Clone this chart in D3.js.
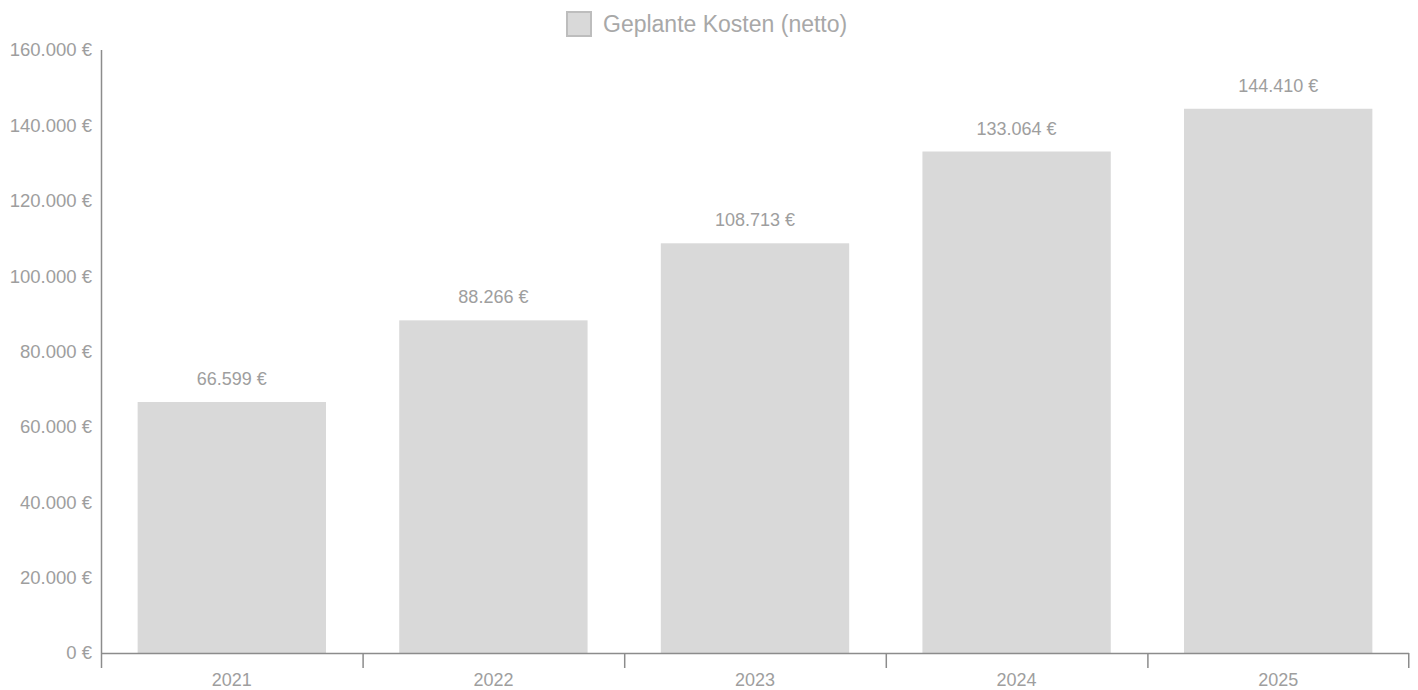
<!DOCTYPE html>
<html>
<head>
<meta charset="utf-8">
<script src="https://cdn.jsdelivr.net/npm/d3@7"></script>
<style>
  body { margin: 0; background: #fff; }
  svg { font-family: "Liberation Sans", Arial, sans-serif; }
</style>
</head>
<body>
<svg id="chart" width="1418" height="690"></svg>
<script>
const years = ["2021", "2022", "2023", "2024", "2025"];
const costs = [66599, 88266, 108713, 133064, 144410];
const yTicks = [0, 20000, 40000, 60000, 80000, 100000, 120000, 140000, 160000];
const seriesName = "Geplante Kosten (netto)";

const width = 1418;
const height = 690;
const margin = { top: 50, right: 9, bottom: 37, left: 101 };
const chartWidth = width - margin.left - margin.right;
const chartHeight = height - margin.top - margin.bottom;

const textColor = "#9e9e9e";
const axisColor = "#8c8c8c";
const barColor = "#d9d9d9";

const de = d3.formatLocale({ decimal: ",", thousands: ".", grouping: [3], currency: ["", " €"] });
const fmt = v => de.format(",")(v) + " €";

const svg = d3.select("#chart");
const g = svg.append("g").attr("transform", `translate(${margin.left},${margin.top})`);

const x = d3.scaleBand().domain(years).range([0, chartWidth]).paddingInner(0.28).paddingOuter(0.14);
const y = d3.scaleLinear().domain([0, 160000]).range([chartHeight, 0]);
const step = x.step();

// y axis: line + labels, no tick marks
g.append("line")
  .attr("x1", 0.5).attr("x2", 0.5)
  .attr("y1", 0).attr("y2", chartHeight)
  .attr("stroke", axisColor).attr("stroke-width", 1.5);

g.selectAll("text.ylab")
  .data(yTicks)
  .enter().append("text")
  .attr("class", "ylab")
  .attr("x", -9)
  .attr("y", d => y(d))
  .attr("dy", "0.35em")
  .attr("text-anchor", "end")
  .attr("fill", textColor)
  .style("font-size", "18.5px")
  .text(d => fmt(d));

// bars
g.selectAll("rect.bar")
  .data(costs)
  .enter().append("rect")
  .attr("class", "bar")
  .attr("x", (d, i) => x(years[i]))
  .attr("y", d => y(d))
  .attr("width", x.bandwidth())
  .attr("height", d => chartHeight - y(d))
  .attr("fill", barColor);

// value labels
g.selectAll("text.val")
  .data(costs)
  .enter().append("text")
  .attr("class", "val")
  .attr("x", (d, i) => x(years[i]) + x.bandwidth() / 2)
  .attr("y", d => y(d) - 17)
  .attr("text-anchor", "middle")
  .attr("fill", textColor)
  .style("font-size", "18px")
  .text(d => fmt(d));

// x axis: baseline, boundary ticks, centered labels
const xAxis = g.append("g").attr("transform", `translate(0,${chartHeight})`);
xAxis.append("line")
  .attr("x1", 0).attr("x2", chartWidth)
  .attr("y1", 0.5).attr("y2", 0.5)
  .attr("stroke", axisColor).attr("stroke-width", 1.5);

const boundaries = d3.range(years.length + 1).map(i => i * step);
xAxis.selectAll("line.tick")
  .data(boundaries)
  .enter().append("line")
  .attr("class", "tick")
  .attr("x1", d => Math.min(d, chartWidth - 0.75) + 0.5)
  .attr("x2", d => Math.min(d, chartWidth - 0.75) + 0.5)
  .attr("y1", 0).attr("y2", 15)
  .attr("stroke", axisColor).attr("stroke-width", 1.5);

xAxis.selectAll("text.xlab")
  .data(years)
  .enter().append("text")
  .attr("class", "xlab")
  .attr("x", d => x(d) + x.bandwidth() / 2)
  .attr("y", 27)
  .attr("dy", "0.35em")
  .attr("text-anchor", "middle")
  .attr("fill", textColor)
  .style("font-size", "18px")
  .text(d => d);

// legend
const legend = svg.append("g").attr("transform", "translate(567,12)");
legend.append("rect")
  .attr("width", 24).attr("height", 24)
  .attr("fill", barColor)
  .attr("stroke", "#bdbdbd").attr("stroke-width", 2);
legend.append("text")
  .attr("x", 36)
  .attr("y", 12)
  .attr("dy", "0.35em")
  .attr("fill", "#a8a8a8")
  .style("font-size", "23px")
  .text(seriesName);
</script>
</body>
</html>
